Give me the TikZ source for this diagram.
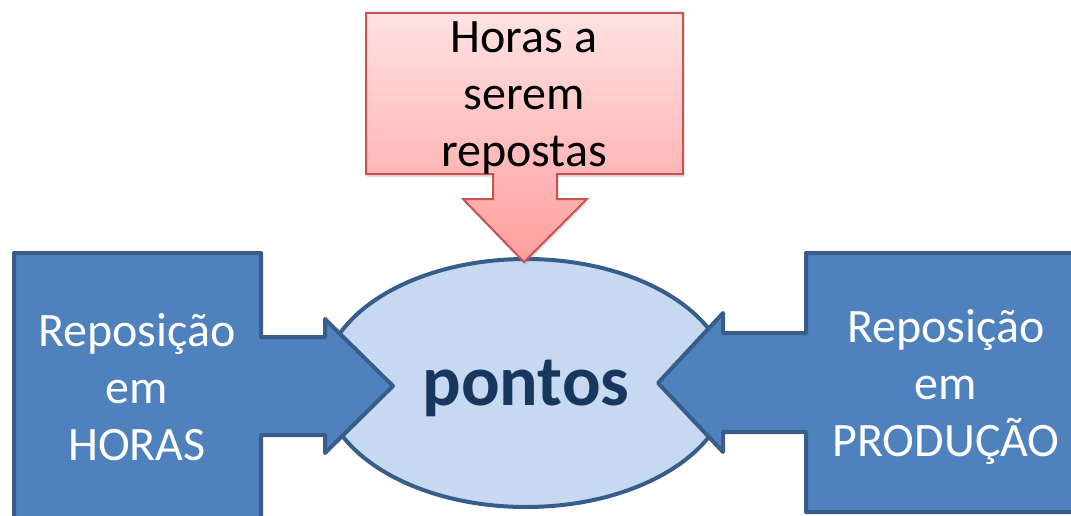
\documentclass[tikz,border=0pt]{standalone}
\usepackage{fontspec}
\setmainfont{Carlito}
\usetikzlibrary{shapes.geometric,shadows}

\definecolor{callblue}{RGB}{79,129,189}
\definecolor{callline}{RGB}{56,93,138}
\definecolor{ovalfill}{RGB}{198,217,241}
\definecolor{ovaltext}{RGB}{23,55,94}
\definecolor{redtop}{RGB}{255,226,226}
\definecolor{redbot}{RGB}{255,158,158}
\definecolor{redline}{RGB}{200,84,80}

\begin{document}
\begin{tikzpicture}[x=1pt,y=-1pt,
    bluecall/.style={fill=callblue,draw=callline,line width=4pt,line join=round},
    redcall/.style={top color=redtop,bottom color=redbot,draw=redline,line width=2pt,
        drop shadow={shadow xshift=1pt,shadow yshift=-3pt,opacity=0.25}},
    calltext/.style={align=center,inner sep=0pt,font=\fontsize{48}{57}\selectfont}]

    \useasboundingbox (0,0) rectangle (1071,516);

    % Oval in the middle
    \node[ellipse,fill=ovalfill,draw=callline,line width=4pt,minimum width=406pt,
        minimum height=248pt,inner sep=0pt,text=ovaltext,text depth=0pt,
        font=\fontsize{72}{80}\selectfont\bfseries] (pontos) at (526,383) {pontos};

    % Left callout
    \draw[bluecall] (14,253) -- (261,253) -- (261,337) -- (325,337) -- (325,319)
        -- (393,386) -- (325,453) -- (325,435) -- (261,435) -- (261,520)
        -- (14,520) -- cycle;

    % Right callout
    \draw[bluecall] (806,253) -- (1080,253) -- (1080,512) -- (806,512)
        -- (806,432) -- (723,432) -- (723,452) -- (658,383) -- (723,313)
        -- (723,333) -- (806,333) -- cycle;

    % Top callout
    \path[redcall] (366,13) -- (683,13) -- (683,174) -- (557,174) -- (557,199)
        -- (587,199) -- (524,262) -- (463,199) -- (493,199) -- (493,174)
        -- (366,174) -- cycle;

    % Texts
    \node[calltext,text=white] (horas) at (137,387) {Reposição\\em\\HORAS};
    \node[calltext,text=white] (producao) at (946,387) {Reposição\\em\\PRODUÇÃO};
    \node[calltext] (repor) at (524,98) {Horas a\\serem\\repostas};

\end{tikzpicture}
\end{document}
